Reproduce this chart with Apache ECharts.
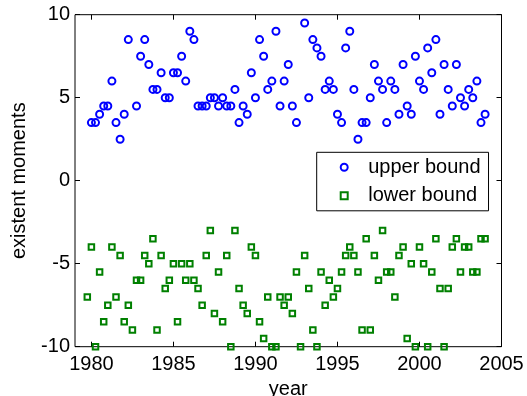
<!DOCTYPE html>
<html>
<head>
<meta charset="utf-8">
<script src="https://cdn.jsdelivr.net/npm/echarts@6/dist/echarts.min.js"></script>
<style>
  html, body { margin: 0; padding: 0; background: #fff; }
  #chart { width: 527px; height: 396px; }
</style>
</head>
<body>
<div id="chart"></div>
<script>
// Quarterly observation times
const years = [
  1979.75,
  1980.00, 1980.25, 1980.50, 1980.75, 1981.00, 1981.25, 1981.50, 1981.75,
  1982.00, 1982.25, 1982.50, 1982.75, 1983.00, 1983.25, 1983.50, 1983.75,
  1984.00, 1984.25, 1984.50, 1984.75, 1985.00, 1985.25, 1985.50, 1985.75,
  1986.00, 1986.25, 1986.50, 1986.75, 1987.00, 1987.25, 1987.50, 1987.75,
  1988.00, 1988.25, 1988.50, 1988.75, 1989.00, 1989.25, 1989.50, 1989.75,
  1990.00, 1990.25, 1990.50, 1990.75, 1991.00, 1991.25, 1991.50, 1991.75,
  1992.00, 1992.25, 1992.50, 1992.75, 1993.00, 1993.25, 1993.50, 1993.75,
  1994.00, 1994.25, 1994.50, 1994.75, 1995.00, 1995.25, 1995.50, 1995.75,
  1996.00, 1996.25, 1996.50, 1996.75, 1997.00, 1997.25, 1997.50, 1997.75,
  1998.00, 1998.25, 1998.50, 1998.75, 1999.00, 1999.25, 1999.50, 1999.75,
  2000.00, 2000.25, 2000.50, 2000.75, 2001.00, 2001.25, 2001.50, 2001.75,
  2002.00, 2002.25, 2002.50, 2002.75, 2003.00, 2003.25, 2003.50, 2003.75,
  2004.00
];

// Upper bound of existent moments (null = unbounded, not drawn)
const upperBound = [
  null,
  3.5, 3.5, 4.0, 4.5, 4.5, 6.0, 3.5, 2.5,
  4.0, 8.5, null, 4.5, 7.5, 8.5, 7.0, 5.5,
  5.5, 6.5, 5.0, 5.0, 6.5, 6.5, 7.5, 6.0,
  9.0, 8.5, 4.5, 4.5, 4.5, 5.0, 5.0, 4.5,
  5.0, 4.5, 4.5, 5.5, 3.5, 4.5, 4.0, 6.5,
  5.0, 8.5, 7.5, 5.5, 6.0, 9.0, 4.5, 6.0,
  7.0, 4.5, 3.5, null, 9.5, 5.0, 8.5, 8.0,
  7.5, 5.5, 6.0, 5.5, 4.0, 3.5, 8.0, 9.0,
  5.5, 2.5, 3.5, 3.5, 5.0, 7.0, 6.0, 5.5,
  3.5, 6.0, 5.5, 4.0, 7.0, 4.5, 4.0, 7.5,
  6.0, 5.5, 8.0, 6.5, 8.5, 4.0, 7.0, 5.5,
  4.5, 7.0, 5.0, 4.5, 5.5, 5.0, 6.0, 3.5,
  4.0
];

// Lower bound of existent moments
const lowerBound = [
  -7.0,
  -4.0, -10.0, -5.5, -8.5, -7.5, -4.0, -7.0, -4.5,
  -8.5, -7.5, -9.0, -6.0, -6.0, -4.5, -5.0, -3.5,
  -9.0, -4.5, -6.5, -6.0, -5.0, -8.5, -5.0, -6.0,
  -5.0, -6.0, -6.5, -7.5, -4.5, -3.0, -8.0, -5.5,
  -8.5, -4.5, -10.0, -3.0, -6.5, -7.5, -8.0, -4.0,
  -4.5, -8.5, -9.5, -7.0, -10.0, -10.0, -7.0, -7.5,
  -7.0, -8.0, -5.5, -10.0, -4.5, -6.5, -9.0, -10.0,
  -5.5, -7.5, -6.0, -7.0, -6.5, -5.5, -4.5, -4.0,
  -4.5, -5.5, -9.0, -3.5, -9.0, -4.5, -6.0, -3.0,
  -5.5, -5.5, -7.0, -4.5, -4.0, -9.5, -5.0, -10.0,
  -4.0, -5.0, -10.0, -5.5, -3.5, -6.5, -10.0, -6.5,
  -4.0, -3.5, -5.5, -4.0, -4.0, -5.5, -5.5, -3.5,
  -3.5
];

const xTicks = [1980, 1985, 1990, 1995, 2000, 2005];
const yTicks = [-10, -5, 0, 5, 10];

const seriesNames = ['upper bound', 'lower bound'];

// Square outline symbol as a path so it keeps its aspect in the legend too
const SQUARE = 'path://M0,0L10,0L10,10L0,10Z';

function pairs(xs, ys) {
  const out = [];
  for (let i = 0; i < xs.length; i++) {
    if (ys[i] !== null) out.push([xs[i], ys[i]]);
  }
  return out;
}

const FONT = '"Liberation Sans", Arial, Helvetica, sans-serif';
const FS = 20;

const chart = echarts.init(document.getElementById('chart'), null, { renderer: 'canvas' });

const tickStyle = { color: '#000', width: 1 };

const baseX = {
  type: 'value', min: 1979, max: 2005,
  splitLine: { show: false },
  axisLine: { show: false, onZero: false },
  axisTick: { show: true, inside: true, length: 5, customValues: xTicks, lineStyle: tickStyle }
};
const baseY = {
  type: 'value', min: -10, max: 10,
  splitLine: { show: false },
  axisLine: { show: false, onZero: false },
  axisTick: { show: true, inside: true, length: 5, customValues: yTicks, lineStyle: tickStyle }
};

chart.setOption({
  animation: false,
  backgroundColor: '#fff',
  textStyle: { fontFamily: FONT },
  grid: {
    left: 75, right: 25.5, top: 14.7, bottom: 49.3,
    containLabel: false,
    outerBoundsMode: 'none',
    show: true, borderColor: '#000', borderWidth: 1, backgroundColor: 'transparent'
  },
  legend: {
    data: seriesNames,
    orient: 'vertical',
    left: 316.7, top: 152.3,
    padding: [5, 8, 5, 23],
    itemWidth: 38, itemHeight: 7, itemGap: 8.5,
    symbolKeepAspect: true,
    backgroundColor: '#fff',
    borderColor: '#000', borderWidth: 1,
    textStyle: { fontFamily: FONT, fontSize: FS, color: '#000', lineHeight: 20 }
  },
  xAxis: [
    Object.assign({}, baseX, {
      position: 'bottom',
      name: 'year', nameLocation: 'middle', nameGap: 22.5,
      nameTextStyle: { fontFamily: FONT, fontSize: FS, color: '#000', lineHeight: 20 },
      axisLabel: { show: true, customValues: xTicks, margin: 7.4,
                   formatter: v => String(v),
                   fontFamily: FONT, fontSize: FS, color: '#000', lineHeight: 20 }
    }),
    Object.assign({}, baseX, { position: 'top', axisLabel: { show: false } })
  ],
  yAxis: [
    Object.assign({}, baseY, {
      position: 'left',
      name: 'existent moments', nameLocation: 'middle', nameGap: 46,
      nameTextStyle: { fontFamily: FONT, fontSize: FS, color: '#000', lineHeight: 20 },
      axisLabel: { show: true, customValues: yTicks, margin: 5,
                   formatter: v => String(v),
                   fontFamily: FONT, fontSize: FS, color: '#000' }
    }),
    Object.assign({}, baseY, { position: 'right', axisLabel: { show: false } })
  ],
  series: [
    {
      name: seriesNames[0], type: 'scatter',
      xAxisIndex: 0, yAxisIndex: 0,
      data: pairs(years, upperBound),
      symbol: 'circle', symbolSize: 7, symbolKeepAspect: true,
      itemStyle: { color: 'rgba(255,255,255,0)', borderColor: '#0000ff', borderWidth: 2, opacity: 1 }
    },
    {
      name: seriesNames[1], type: 'scatter',
      xAxisIndex: 0, yAxisIndex: 0,
      data: pairs(years, lowerBound),
      symbol: SQUARE, symbolSize: 5.5, symbolKeepAspect: true,
      itemStyle: { color: 'rgba(255,255,255,0)', borderColor: '#008000', borderWidth: 2, opacity: 1 }
    }
  ]
});
</script>
</body>
</html>
